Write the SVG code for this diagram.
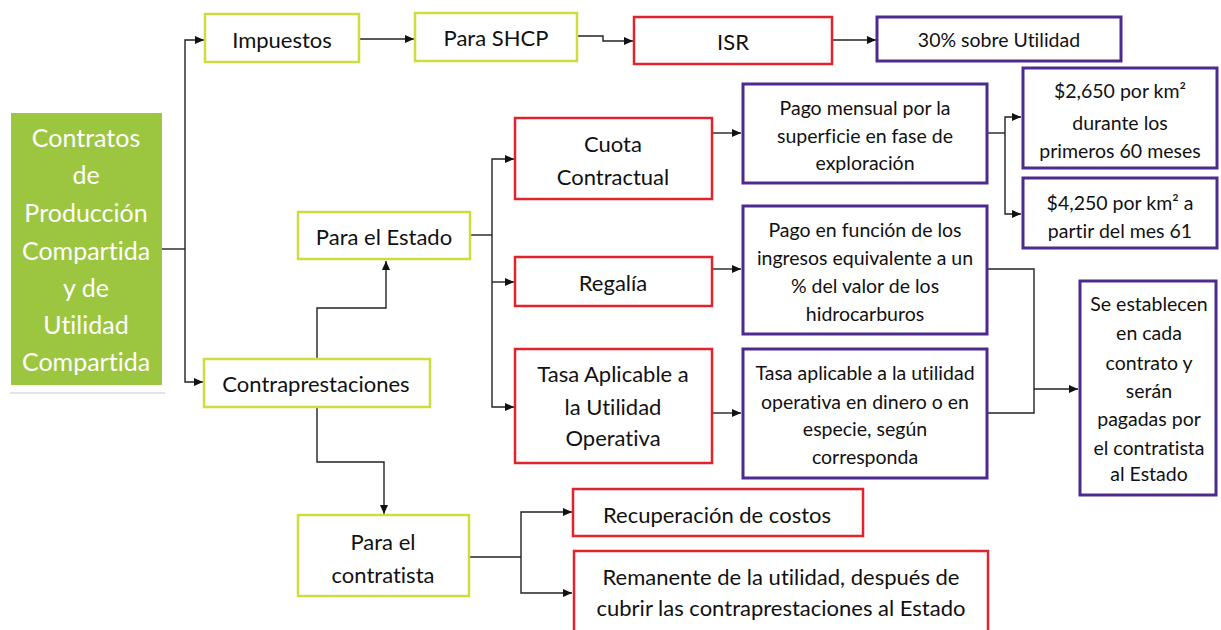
<svg xmlns="http://www.w3.org/2000/svg" width="1221" height="630" viewBox="0 0 1221 630">
<defs>
<style>
.g{fill:#fff;stroke:#cfdc3e;stroke-width:2.5}
.r{fill:#fff;stroke:#e1232b;stroke-width:2.5}
.p{fill:#fff;stroke:#4d2a8e;stroke-width:3}
text{font-family:Lato,"Open Sans","Liberation Sans",sans-serif;fill:#111;text-anchor:middle;dominant-baseline:central;font-variant-ligatures:none;font-feature-settings:"liga" 0,"clig" 0}
.m{font-size:22px}
.d{font-size:19.5px}
.w{fill:#fff;font-size:25px}
.c{fill:none;stroke:#222;stroke-width:1.4}
.a{marker-end:url(#ah)}
</style>
<marker id="ah" markerUnits="userSpaceOnUse" markerWidth="9" markerHeight="8" refX="9" refY="4" orient="auto">
<path d="M0,0 L9,4 L0,8 z" fill="#111"/>
</marker>
</defs>
<rect width="1221" height="630" fill="#fff"/>

<g id="connectors">
<path class="c" d="M162,249 H185"/>
<path class="c a" d="M185,249 V40 H204"/>
<path class="c a" d="M185,249 V382 H203"/>
<path class="c a" d="M359,39 H414"/>
<path class="c a" d="M577,36 H603 V41 H633"/>
<path class="c a" d="M832,40 H876"/>
<path class="c" d="M470,235 H492"/>
<path class="c a" d="M492,235 V159 H514"/>
<path class="c a" d="M492,235 V407 H514"/>
<path class="c a" d="M492,282 H514"/>
<path class="c a" d="M317,359 V308 H386 V261"/>
<path class="c a" d="M317,407 V462 H384 V514"/>
<path class="c a" d="M712,133 H741"/>
<path class="c a" d="M712,269 H741"/>
<path class="c a" d="M712,413 H741"/>
<path class="c" d="M987,133 H1005"/>
<path class="c a" d="M1005,133 V117 H1021"/>
<path class="c a" d="M1005,133 V214 H1021"/>
<path class="c" d="M987,269 H1034 V413 H987"/>
<path class="c a" d="M1034,389 H1078"/>
<path class="c" d="M469,557 H521"/>
<path class="c a" d="M521,557 V512 H572"/>
<path class="c a" d="M521,557 V593 H572"/>
</g>

<g id="root">
<rect x="11" y="113" width="151" height="272" fill="#9cc63f"/>
<path d="M10,393 H165" stroke="#c8c8c8" stroke-width="1"/>
<text class="w" x="86" y="137">Contratos</text>
<text class="w" x="86" y="174">de</text>
<text class="w" x="86" y="212">Producción</text>
<text class="w" x="86" y="250">Compartida</text>
<text class="w" x="86" y="287">y de</text>
<text class="w" x="86" y="324">Utilidad</text>
<text class="w" x="86" y="361">Compartida</text>
</g>

<g id="impuestos"><rect class="g" x="205" y="14" width="154" height="48"/><text class="m" x="282" y="39">Impuestos</text></g>
<g id="shcp"><rect class="g" x="415" y="13" width="162" height="48"/><text class="m" x="496" y="37">Para SHCP</text></g>
<g id="isr"><rect class="r" x="634" y="17" width="198" height="47"/><text class="m" x="733" y="41">ISR</text></g>
<g id="treinta"><rect class="p" x="877" y="17" width="244" height="44"/><text class="d" x="999" y="39">30% sobre Utilidad</text></g>

<g id="contraprestaciones"><rect class="g" x="204" y="359" width="226" height="48"/><text class="m" x="316" y="383">Contraprestaciones</text></g>
<g id="estado"><rect class="g" x="298" y="212" width="172" height="47"/><text class="m" x="384" y="236">Para el Estado</text></g>
<g id="contratista"><rect class="g" x="298" y="515" width="171" height="81"/><text class="m" x="383" y="541">Para el</text><text class="m" x="383" y="574">contratista</text></g>

<g id="cuota"><rect class="r" x="515" y="118" width="197" height="81"/><text class="m" x="613" y="143">Cuota</text><text class="m" x="613" y="176">Contractual</text></g>
<g id="regalia"><rect class="r" x="515" y="257" width="197" height="49"/><text class="m" x="613" y="282">Regalía</text></g>
<g id="tasa"><rect class="r" x="515" y="349" width="197" height="114"/><text class="m" x="613" y="373">Tasa Aplicable a</text><text class="m" x="613" y="406">la Utilidad</text><text class="m" x="613" y="437">Operativa</text></g>

<g id="pago-mensual"><rect class="p" x="743" y="84" width="244" height="99"/><text class="d" x="865" y="107">Pago mensual por la</text><text class="d" x="865" y="135">superficie en fase de</text><text class="d" x="865" y="162">exploración</text></g>
<g id="pago-funcion"><rect class="p" x="743" y="206" width="244" height="128"/><text class="d" x="865" y="229">Pago en función de los</text><text class="d" x="865" y="257">ingresos equivalente a un</text><text class="d" x="865" y="285">% del valor de los</text><text class="d" x="865" y="313">hidrocarburos</text></g>
<g id="tasa-desc"><rect class="p" x="743" y="349" width="244" height="129"/><text class="d" x="865" y="372">Tasa aplicable a la utilidad</text><text class="d" x="865" y="401">operativa en dinero o en</text><text class="d" x="865" y="428">especie, según</text><text class="d" x="865" y="456">corresponda</text></g>

<g id="km2650"><rect class="p" x="1023" y="68" width="194" height="100"/><text class="d" x="1120" y="90">$2,650 por km²</text><text class="d" x="1120" y="122">durante los</text><text class="d" x="1120" y="150">primeros 60 meses</text></g>
<g id="km4250"><rect class="p" x="1023" y="178" width="194" height="70"/><text class="d" x="1120" y="202">$4,250 por km² a</text><text class="d" x="1120" y="230">partir del mes 61</text></g>

<g id="se-establecen"><rect class="p" x="1080" y="281" width="136" height="214"/>
<text class="d" x="1149" y="303">Se establecen</text><text class="d" x="1149" y="332">en cada</text><text class="d" x="1149" y="362">contrato y</text><text class="d" x="1149" y="390">serán</text><text class="d" x="1149" y="418">pagadas por</text><text class="d" x="1149" y="447">el contratista</text><text class="d" x="1149" y="473">al Estado</text></g>

<g id="recuperacion"><rect class="r" x="573" y="489" width="290" height="47"/><text class="m" x="717" y="514">Recuperación de costos</text></g>
<g id="remanente"><rect class="r" x="574" y="551" width="414" height="82"/><text class="m" x="781" y="576">Remanente de la utilidad, después de</text><text class="m" x="781" y="607">cubrir las contraprestaciones al Estado</text></g>
</svg>
